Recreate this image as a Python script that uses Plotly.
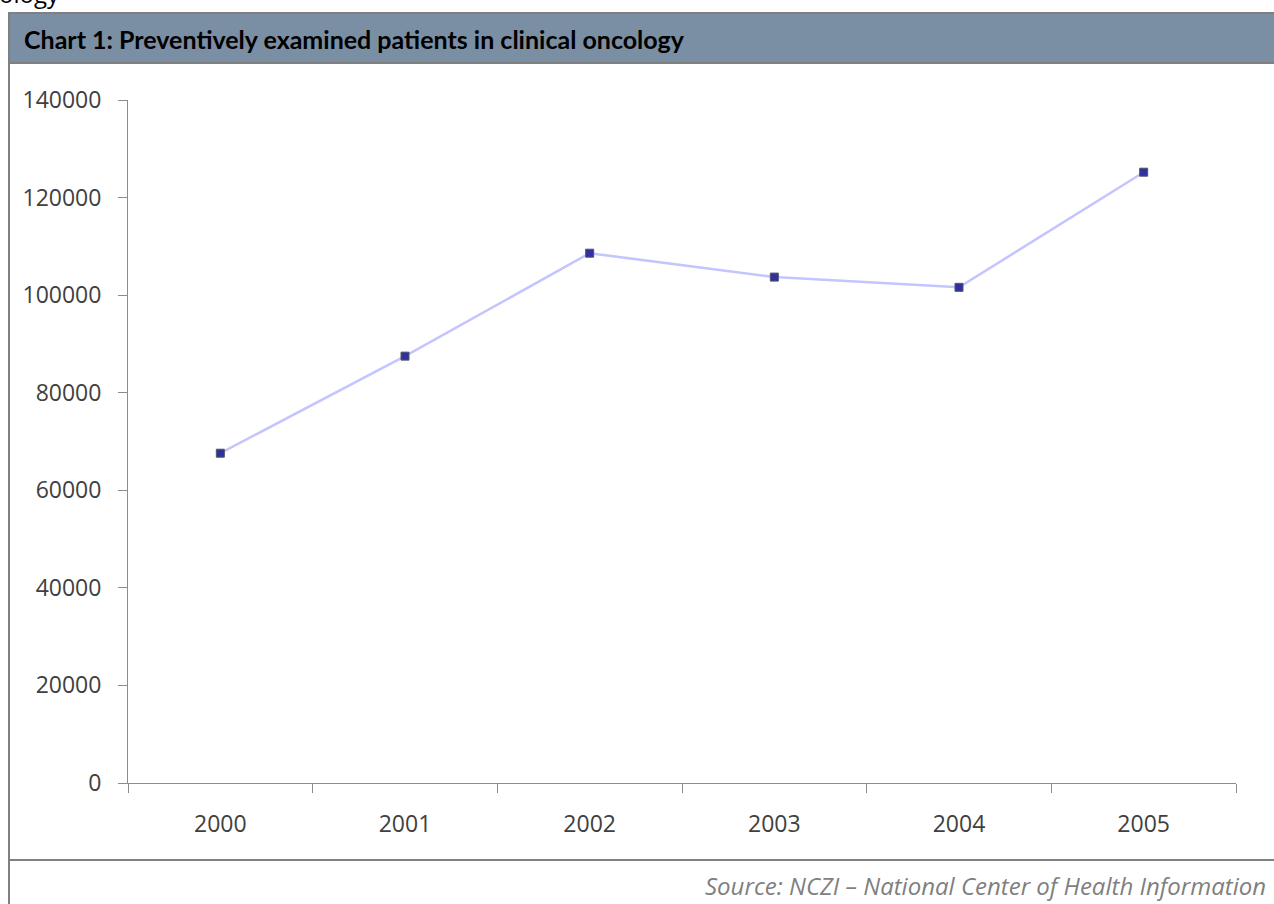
import plotly.graph_objects as go

years = ["2000", "2001", "2002", "2003", "2004", "2005"]
patients = [67600, 87500, 108600, 103700, 101600, 125200]
y_ticks = [0, 20000, 40000, 60000, 80000, 100000, 120000, 140000]
y_tick_labels = [str(v) for v in y_ticks]

title_text = "Chart 1: Preventively examined patients in clinical oncology"
source_text = "Source: NCZI \u2013 National Center of Health Information"

W, H = 1274, 904
L, R, T, B = 128, 1236, 100, 783

def px(x):
    return (x - L) / (R - L)

def py(y):
    return (B - y) / (B - T)

fig = go.Figure()
fig.add_trace(go.Scatter(
    x=years, y=patients, mode="lines+markers",
    line=dict(color="#c4c4ff", width=2.5),
    marker=dict(symbol="square", size=8, color="#30309e",
                line=dict(color="#555566", width=1)),
    hoverinfo="x+y", showlegend=False,
))

shapes = [
    dict(type="rect", xref="paper", yref="paper",
         x0=px(9), x1=px(1290), y0=py(63), y1=py(13),
         fillcolor="#7a8ea4", line=dict(color="#808080", width=2), layer="below"),
    dict(type="line", xref="paper", yref="paper",
         x0=px(9), x1=px(9), y0=py(63), y1=py(910),
         line=dict(color="#808080", width=2)),
    dict(type="line", xref="paper", yref="paper",
         x0=px(9), x1=px(1290), y0=py(860), y1=py(860),
         line=dict(color="#808080", width=2)),
]

annotations = [
    dict(text=title_text, xref="paper", yref="paper",
         x=px(22), y=py(39), xanchor="left", yanchor="middle",
         showarrow=False, font=dict(family="Lato", size=25, color="#000000", weight="bold")),
    dict(text="<i>" + source_text + "</i>", xref="paper", yref="paper",
         x=px(1268), y=py(885), xanchor="right", yanchor="middle",
         showarrow=False, font=dict(family="Open Sans", size=24, color="#7f7f7f")),
    dict(text="ology", xref="paper", yref="paper",
         x=px(-3), y=py(-6), xanchor="left", yanchor="middle",
         showarrow=False, font=dict(family="Open Sans", size=24, color="#000000")),
]

fig.update_layout(
    width=W, height=H,
    margin=dict(l=L, r=W - R, t=T, b=H - B, autoexpand=False),
    paper_bgcolor="white", plot_bgcolor="white",
    shapes=shapes, annotations=annotations,
    xaxis=dict(type="category", range=[-0.5, 5.5], showgrid=False, zeroline=False,
               showline=True, linecolor="#8c8c8c", linewidth=1,
               ticks="outside", tickson="boundaries", ticklen=9, tickcolor="#8c8c8c",
               tickfont=dict(family="Open Sans", size=23, color="#404040"),
               ticklabelstandoff=20),
    yaxis=dict(range=[0, 140000], tickvals=y_ticks, ticktext=y_tick_labels,
               showgrid=False, zeroline=False,
               showline=True, linecolor="#8c8c8c", linewidth=1,
               ticks="outside", ticklen=9, tickcolor="#8c8c8c",
               tickfont=dict(family="Open Sans", size=23, color="#404040"),
               ticklabelstandoff=12),
)

fig.write_html("out.html")
